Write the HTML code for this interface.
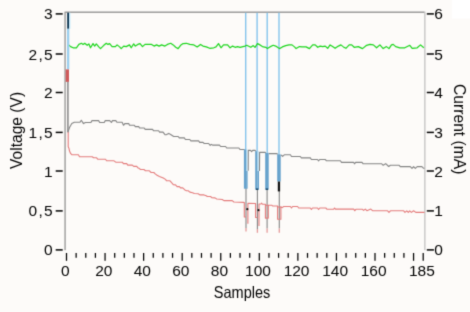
<!DOCTYPE html>
<html><head><meta charset="utf-8"><style>
html,body{margin:0;padding:0;background:#fdfbf9;width:470px;height:312px;overflow:hidden}
svg{position:absolute;left:0;top:0;display:block}
text{font-family:"Liberation Sans", sans-serif;fill:#000}
</style></head><body>
<svg width="470" height="312" viewBox="0 0 470 312">
<defs><filter id="bl" x="0" y="0" width="470" height="312" filterUnits="userSpaceOnUse" color-interpolation-filters="sRGB"><feConvolveMatrix order="3" kernelMatrix="0.0192 0.1001 0.0192 0.1001 0.5228 0.1001 0.0192 0.1001 0.0192" edgeMode="duplicate"/></filter></defs>
<g>
<rect x="0" y="0" width="470" height="312" fill="#fdfbf9"/>
<rect x="452" y="0" width="18" height="18.5" fill="#ffffff"/>
<g stroke-width="1" fill="none">
<line x1="65.05" y1="250.2" x2="65.05" y2="11.65" stroke="#747474"/>
<line x1="65.55" y1="12.15" x2="424.45" y2="12.15" stroke="#6c6c6c"/>
<line x1="424.9" y1="11.65" x2="424.9" y2="250.2" stroke="#b0b0b0"/>
</g>
<g stroke="#84c4ec" stroke-width="1.4" fill="none">
<line x1="245.7" y1="12.7" x2="245.7" y2="149.5"/>
<line x1="257.1" y1="12.7" x2="257.1" y2="151.5"/>
<line x1="267.2" y1="12.7" x2="267.2" y2="152.8"/>
<line x1="279.0" y1="12.7" x2="279.0" y2="154.5"/>
</g>
<polyline points="68.1,44.4 70.6,46.6 73.1,47.8 76.4,47.8 78.9,44.4 81.4,43.3 83.1,44.4 84.7,43.3 87.2,45.3 88.9,43.9 90.5,47.8 93.0,43.6 94.7,46.1 96.3,43.9 98.8,46.9 100.5,48.6 103.8,45.3 106.3,43.3 108.0,44.4 109.6,43.6 112.1,46.6 115.4,46.6 117.1,44.9 119.6,46.9 121.2,48.6 123.7,46.1 126.2,46.6 129.5,44.9 131.2,47.8 133.7,43.9 135.3,46.1 137.8,44.4 140.0,43.6 142.5,46.6 145.0,44.4 151.6,44.4 154.1,46.1 156.6,44.9 159.1,46.1 161.6,44.9 164.9,46.1 167.4,44.4 170.7,43.3 173.2,44.9 175.7,47.3 178.1,48.6 180.6,45.3 183.1,43.6 186.4,43.3 189.8,44.4 193.9,44.9 197.2,46.9 200.5,44.4 203.0,46.1 206.3,46.9 209.7,48.3 213.8,47.8 216.0,46.9 218.5,43.6 221.0,47.8 223.5,44.9 227.6,44.9 230.1,47.8 232.6,46.1 235.1,47.3 237.6,46.6 240.0,47.3 245.0,46.1 246.7,45.3 250.8,47.3 253.3,45.6 255.0,47.3 257.5,43.6 260.0,44.9 262.4,46.6 265.8,47.3 267.4,48.6 269.9,46.9 273.2,45.3 275.7,46.1 278.2,47.8 279.8,48.6 282.3,46.9 285.7,45.6 289.0,44.9 292.0,44.9 294.5,46.9 296.1,48.6 299.5,46.6 302.0,46.9 306.1,46.9 309.4,48.6 312.7,44.9 315.2,44.9 317.7,47.3 320.2,46.1 322.7,46.6 325.2,46.1 327.7,48.3 330.1,44.9 332.6,46.6 335.1,48.3 338.4,46.1 340.9,44.9 343.4,46.9 345.9,48.3 349.2,44.9 351.7,44.9 354.2,47.3 358.3,46.6 362.5,48.6 366.6,45.3 370.0,44.4 373.3,44.9 376.6,47.8 379.9,44.9 383.2,48.6 386.5,46.6 389.0,48.6 391.5,44.9 393.2,44.4 395.7,46.6 399.8,47.8 404.8,47.8 409.8,45.3 412.2,48.3 417.2,47.8 420.5,44.9 423.8,47.8" fill="none" stroke="#1cd61c" stroke-width="1.2" stroke-linejoin="round"/>
<g fill="none" stroke="#848484" stroke-width="1.1" stroke-linejoin="round">
<polyline points="67.9,132.3 69.5,127.5 71.8,123.5 74.3,122.3 80.0,122.3 81.3,120.3 83.5,123.6 85.4,122.5 90.9,122.5 92.0,120.6 98.6,120.6 99.7,122.5 104.2,122.5 105.3,120.6 109.7,120.6 111.4,122.5 112.5,120.6 115.8,120.6 116.9,122.2 122.1,122.2 123.5,125.3 124.8,123.6 128.7,123.6 129.5,125.2 134.3,125.2 135.3,126.6 138.7,126.6 139.6,128.0 144.2,128.0 145.2,129.4 152.5,129.4 153.5,130.7 158.6,130.7 159.6,132.1 163.0,132.1 165.2,134.8 166.5,134.6 168.8,133.4 171.0,134.8 173.7,136.5 178.2,136.5 179.3,137.9 184.3,137.9 185.4,139.5 189.8,139.5 190.9,140.9 198.6,140.9 199.7,142.4 203.0,142.4 204.2,143.5 208.6,143.5 210.2,145.3 211.4,144.4 212.5,145.1 219.5,145.1 220.6,146.5 225.6,146.5 226.7,148.0 238.9,148.0 240.0,149.5 244.4,149.5"/>
<polyline points="248.2,170.7 248.3,150.4 250.5,150.4 251.6,151.6 252.7,150.4 255.2,150.4 255.6,151.4"/>
<polyline points="259.5,171.0 259.6,152.4 265.3,152.4 265.7,153.2"/>
<polyline points="268.8,153.6 277.0,153.6 277.5,154.5"/>
<polyline points="281.0,154.8 282.6,156.4 284.3,154.8 290.4,154.8 291.5,156.5 300.3,156.5 301.4,157.9 310.3,157.9 311.4,159.5 317.5,159.5 318.6,160.9 319.7,159.5 325.2,159.5 326.6,160.8 340.4,160.8 341.5,162.4 353.7,162.4 354.5,163.8 355.6,162.4 362.0,162.4 363.0,163.7 381.5,163.7 383.2,165.3 385.7,163.6 388.7,166.5 390.4,165.3 399.2,165.3 400.3,166.6 410.3,166.6 412.0,168.3 413.6,166.6 415.3,168.3 417.2,166.6 421.9,166.6 423.6,168.3 424.5,168.3"/>
<polyline points="246.0,188.0 246.0,228.0"/>
<polyline points="257.4,189.0 257.4,229.0"/>
<polyline points="267.1,189.0 267.1,228.5"/>
<polyline points="279.3,190.5 279.3,228.5"/>
</g>
<g fill="none" stroke="#e47c7c" stroke-width="1.1" stroke-linejoin="round">
<polyline points="68.2,132.0 68.2,146.7 69.0,148.4 69.5,151.1 70.6,153.4 72.0,154.8 78.4,154.8 79.5,156.7 92.2,156.7 93.6,157.8 96.6,157.8 97.7,159.2 105.5,159.2 106.6,160.8 114.0,160.8 115.7,162.2 122.3,162.2 123.4,163.6 126.7,163.6 127.8,165.1 132.3,165.1 133.7,166.4 136.7,166.4 137.8,167.7 139.4,168.6 140.5,169.5 143.9,169.5 145.5,170.8 149.4,170.8 151.1,172.5 153.8,172.5 155.5,174.1 157.1,175.2 159.4,176.4 163.3,178.0 165.5,179.4 166.6,180.8 170.0,180.8 171.6,182.7 173.3,184.6 175.5,184.9 177.1,186.6 179.4,186.6 180.5,187.9 182.7,187.9 184.9,189.9 186.5,190.8 188.2,190.8 189.9,192.1 192.6,192.7 194.3,193.5 198.2,193.8 199.8,194.9 204.0,194.9 206.2,195.7 207.3,196.5 210.6,196.5 211.7,197.6 215.0,197.9 216.7,199.0 222.3,199.5 223.9,200.6 232.2,200.6 233.9,202.0 243.8,202.4 244.3,202.6 244.3,217.0 246.0,217.0"/>
<polyline points="247.9,223.8 247.9,203.4 255.6,203.5 255.6,217.5 257.4,217.5"/>
<polyline points="259.0,226.0 259.0,204.0 261.0,204.0 261.7,203.2 262.5,204.3 265.4,204.3 265.4,218.1 268.3,218.1 268.3,205.3 272.0,205.3 272.6,206.0 277.6,206.0 277.6,219.3 280.9,219.3 280.9,206.8 282.1,207.6 283.7,206.5 290.4,206.5 291.5,208.0 292.6,206.5 297.6,206.5 298.7,208.0 310.3,208.0 311.4,209.5 312.5,208.0 317.5,208.0 318.6,209.5 319.7,208.0 325.8,208.0 327.1,209.3 333.7,209.1 334.6,208.0 335.4,209.1 353.7,209.1 354.8,210.7 355.9,209.3 362.5,209.3 363.6,210.4 365.3,209.1 366.9,210.7 368.6,210.0 370.8,209.1 372.5,210.7 376.0,210.8 387.6,210.8 389.0,212.4 390.4,210.8 403.7,210.8 405.0,212.4 406.8,210.8 408.3,212.4 409.7,210.8 411.4,212.4 413.6,210.8 415.8,212.4 424.5,212.4"/>
<polyline points="265.4,205.3 268.3,205.3"/>
<polyline points="277.6,207.0 280.9,207.0"/>
</g>
<g stroke="#e59a9a" stroke-width="1.3" fill="none">
<line x1="246.0" y1="228.0" x2="246.0" y2="231.5"/>
<line x1="257.4" y1="229.0" x2="257.4" y2="232.8"/>
<line x1="267.1" y1="228.5" x2="267.1" y2="232.8"/>
<line x1="279.3" y1="228.5" x2="279.3" y2="232.8"/>
</g>
<rect x="243.9" y="149.3" width="2.20" height="39.40" fill="#66a2cc"/>
<rect x="246.1" y="170.7" width="1.50" height="18.00" fill="#66a2cc"/>
<rect x="246.1" y="149.3" width="1.20" height="21.40" fill="#a2d4f0"/>
<rect x="255.2" y="151.2" width="2.30" height="38.40" fill="#66a2cc"/>
<rect x="257.5" y="171.0" width="1.50" height="18.60" fill="#66a2cc"/>
<rect x="257.5" y="151.2" width="1.10" height="19.80" fill="#a2d4f0"/>
<rect x="265.2" y="152.8" width="3.50" height="36.80" fill="#66a2cc"/>
<rect x="277.2" y="154.3" width="3.50" height="27.20" fill="#66a2cc"/>
<rect x="277.8" y="181.5" width="2.30" height="9.90" fill="#111"/>
<rect x="255.9" y="188.4" width="2.40" height="1.60" fill="#1d4a6a"/>
<rect x="265.7" y="188.4" width="2.40" height="1.60" fill="#1d4a6a"/>
<circle cx="247.3" cy="209.2" r="1.1" fill="#111"/>
<circle cx="258.5" cy="210.2" r="1.1" fill="#111"/>
<rect x="67.2" y="12.7" width="1.8" height="16.1" fill="#0c3350"/>
<rect x="69.0" y="12.7" width="1.4" height="16.1" fill="#c4e8fa"/>
<rect x="67.0" y="28.8" width="2.3" height="40.6" fill="#9ccfee"/>
<rect x="65.7" y="69.4" width="3.3" height="12.5" fill="#cf5a5a"/>
<rect x="67.1" y="81.9" width="1.6" height="50.3" fill="#8e8e8e"/>
<g stroke="#000" stroke-width="1.5">
<line x1="55.7" y1="13.9" x2="62.7" y2="13.9"/>
<line x1="426.8" y1="13.9" x2="433.9" y2="13.9"/>
<line x1="55.7" y1="54.0" x2="62.7" y2="54.0"/>
<line x1="426.8" y1="54.0" x2="433.9" y2="54.0"/>
<line x1="55.7" y1="92.5" x2="62.7" y2="92.5"/>
<line x1="426.8" y1="92.5" x2="433.9" y2="92.5"/>
<line x1="55.7" y1="132.4" x2="62.7" y2="132.4"/>
<line x1="426.8" y1="132.4" x2="433.9" y2="132.4"/>
<line x1="55.7" y1="171.0" x2="62.7" y2="171.0"/>
<line x1="426.8" y1="171.0" x2="433.9" y2="171.0"/>
<line x1="55.7" y1="210.9" x2="62.7" y2="210.9"/>
<line x1="426.8" y1="210.9" x2="433.9" y2="210.9"/>
<line x1="55.7" y1="249.9" x2="62.7" y2="249.9"/>
<line x1="426.8" y1="249.9" x2="433.9" y2="249.9"/>
<line x1="66.50" y1="253" x2="66.50" y2="260.8" stroke-width="1.25"/>
<line x1="76.14" y1="253" x2="76.14" y2="257.8" stroke-width="1.25"/>
<line x1="85.78" y1="253" x2="85.78" y2="257.8" stroke-width="1.25"/>
<line x1="95.42" y1="253" x2="95.42" y2="257.8" stroke-width="1.25"/>
<line x1="105.06" y1="253" x2="105.06" y2="260.8" stroke-width="1.25"/>
<line x1="114.70" y1="253" x2="114.70" y2="257.8" stroke-width="1.25"/>
<line x1="124.34" y1="253" x2="124.34" y2="257.8" stroke-width="1.25"/>
<line x1="133.98" y1="253" x2="133.98" y2="257.8" stroke-width="1.25"/>
<line x1="143.62" y1="253" x2="143.62" y2="260.8" stroke-width="1.25"/>
<line x1="153.26" y1="253" x2="153.26" y2="257.8" stroke-width="1.25"/>
<line x1="162.91" y1="253" x2="162.91" y2="257.8" stroke-width="1.25"/>
<line x1="172.55" y1="253" x2="172.55" y2="257.8" stroke-width="1.25"/>
<line x1="182.19" y1="253" x2="182.19" y2="260.8" stroke-width="1.25"/>
<line x1="191.83" y1="253" x2="191.83" y2="257.8" stroke-width="1.25"/>
<line x1="201.47" y1="253" x2="201.47" y2="257.8" stroke-width="1.25"/>
<line x1="211.11" y1="253" x2="211.11" y2="257.8" stroke-width="1.25"/>
<line x1="220.75" y1="253" x2="220.75" y2="260.8" stroke-width="1.25"/>
<line x1="230.39" y1="253" x2="230.39" y2="257.8" stroke-width="1.25"/>
<line x1="240.03" y1="253" x2="240.03" y2="257.8" stroke-width="1.25"/>
<line x1="249.67" y1="253" x2="249.67" y2="257.8" stroke-width="1.25"/>
<line x1="259.31" y1="253" x2="259.31" y2="260.8" stroke-width="1.25"/>
<line x1="268.95" y1="253" x2="268.95" y2="257.8" stroke-width="1.25"/>
<line x1="278.59" y1="253" x2="278.59" y2="257.8" stroke-width="1.25"/>
<line x1="288.23" y1="253" x2="288.23" y2="257.8" stroke-width="1.25"/>
<line x1="297.87" y1="253" x2="297.87" y2="260.8" stroke-width="1.25"/>
<line x1="307.51" y1="253" x2="307.51" y2="257.8" stroke-width="1.25"/>
<line x1="317.15" y1="253" x2="317.15" y2="257.8" stroke-width="1.25"/>
<line x1="326.79" y1="253" x2="326.79" y2="257.8" stroke-width="1.25"/>
<line x1="336.44" y1="253" x2="336.44" y2="260.8" stroke-width="1.25"/>
<line x1="346.08" y1="253" x2="346.08" y2="257.8" stroke-width="1.25"/>
<line x1="355.72" y1="253" x2="355.72" y2="257.8" stroke-width="1.25"/>
<line x1="365.36" y1="253" x2="365.36" y2="257.8" stroke-width="1.25"/>
<line x1="375.00" y1="253" x2="375.00" y2="260.8" stroke-width="1.25"/>
<line x1="384.64" y1="253" x2="384.64" y2="257.8" stroke-width="1.25"/>
<line x1="394.28" y1="253" x2="394.28" y2="257.8" stroke-width="1.25"/>
<line x1="403.92" y1="253" x2="403.92" y2="257.8" stroke-width="1.25"/>
<line x1="413.56" y1="253" x2="413.56" y2="260.8" stroke-width="1.25"/>
<line x1="423.20" y1="253" x2="423.20" y2="260.8" stroke-width="1.25"/>
</g>
<text x="52.6" y="19.4" font-size="15.5" text-anchor="end">3</text>
<text x="52.6" y="59.5" font-size="15.5" text-anchor="end" textLength="24" lengthAdjust="spacing">2,5</text>
<text x="52.6" y="98.0" font-size="15.5" text-anchor="end">2</text>
<text x="52.6" y="137.9" font-size="15.5" text-anchor="end" textLength="24" lengthAdjust="spacing">1,5</text>
<text x="52.6" y="176.5" font-size="15.5" text-anchor="end">1</text>
<text x="52.6" y="216.4" font-size="15.5" text-anchor="end" textLength="24" lengthAdjust="spacing">0,5</text>
<text x="52.6" y="255.4" font-size="15.5" text-anchor="end">0</text>
<text x="434.2" y="19.4" font-size="15.5">6</text>
<text x="434.2" y="59.5" font-size="15.5">5</text>
<text x="434.2" y="98.0" font-size="15.5">4</text>
<text x="434.2" y="137.9" font-size="15.5">3</text>
<text x="434.2" y="176.5" font-size="15.5">2</text>
<text x="434.2" y="216.4" font-size="15.5">1</text>
<text x="434.2" y="255.4" font-size="15.5">0</text>
<text x="65.20" y="275.9" font-size="15.5" text-anchor="middle">0</text>
<text x="103.76" y="275.9" font-size="15.5" text-anchor="middle">20</text>
<text x="142.32" y="275.9" font-size="15.5" text-anchor="middle">40</text>
<text x="180.89" y="275.9" font-size="15.5" text-anchor="middle">60</text>
<text x="219.45" y="275.9" font-size="15.5" text-anchor="middle">80</text>
<text x="258.01" y="275.9" font-size="15.5" text-anchor="middle">100</text>
<text x="296.57" y="275.9" font-size="15.5" text-anchor="middle">120</text>
<text x="335.14" y="275.9" font-size="15.5" text-anchor="middle">140</text>
<text x="373.70" y="275.9" font-size="15.5" text-anchor="middle">160</text>
<text x="421.90" y="275.9" font-size="15.5" text-anchor="middle">185</text>
<text x="213.8" y="298.0" font-size="16.5" textLength="56.5" lengthAdjust="spacingAndGlyphs">Samples</text>
<text transform="translate(21.6,168.9) rotate(-90)" x="0" y="0" font-size="16.5" textLength="77" lengthAdjust="spacingAndGlyphs">Voltage (V)</text>
<text transform="translate(453.9,84.0) rotate(90)" x="0" y="0" font-size="16.5" textLength="90.5" lengthAdjust="spacingAndGlyphs">Current (mA)</text>
</g>
<g filter="url(#bl)">
<rect x="0" y="0" width="470" height="312" fill="#fdfbf9"/>
<rect x="452" y="0" width="18" height="18.5" fill="#ffffff"/>
<g stroke-width="1" fill="none">
<line x1="65.05" y1="250.2" x2="65.05" y2="11.65" stroke="#747474"/>
<line x1="65.55" y1="12.15" x2="424.45" y2="12.15" stroke="#6c6c6c"/>
<line x1="424.9" y1="11.65" x2="424.9" y2="250.2" stroke="#b0b0b0"/>
</g>
<g stroke="#84c4ec" stroke-width="1.4" fill="none">
<line x1="245.7" y1="12.7" x2="245.7" y2="149.5"/>
<line x1="257.1" y1="12.7" x2="257.1" y2="151.5"/>
<line x1="267.2" y1="12.7" x2="267.2" y2="152.8"/>
<line x1="279.0" y1="12.7" x2="279.0" y2="154.5"/>
</g>
<polyline points="68.1,44.4 70.6,46.6 73.1,47.8 76.4,47.8 78.9,44.4 81.4,43.3 83.1,44.4 84.7,43.3 87.2,45.3 88.9,43.9 90.5,47.8 93.0,43.6 94.7,46.1 96.3,43.9 98.8,46.9 100.5,48.6 103.8,45.3 106.3,43.3 108.0,44.4 109.6,43.6 112.1,46.6 115.4,46.6 117.1,44.9 119.6,46.9 121.2,48.6 123.7,46.1 126.2,46.6 129.5,44.9 131.2,47.8 133.7,43.9 135.3,46.1 137.8,44.4 140.0,43.6 142.5,46.6 145.0,44.4 151.6,44.4 154.1,46.1 156.6,44.9 159.1,46.1 161.6,44.9 164.9,46.1 167.4,44.4 170.7,43.3 173.2,44.9 175.7,47.3 178.1,48.6 180.6,45.3 183.1,43.6 186.4,43.3 189.8,44.4 193.9,44.9 197.2,46.9 200.5,44.4 203.0,46.1 206.3,46.9 209.7,48.3 213.8,47.8 216.0,46.9 218.5,43.6 221.0,47.8 223.5,44.9 227.6,44.9 230.1,47.8 232.6,46.1 235.1,47.3 237.6,46.6 240.0,47.3 245.0,46.1 246.7,45.3 250.8,47.3 253.3,45.6 255.0,47.3 257.5,43.6 260.0,44.9 262.4,46.6 265.8,47.3 267.4,48.6 269.9,46.9 273.2,45.3 275.7,46.1 278.2,47.8 279.8,48.6 282.3,46.9 285.7,45.6 289.0,44.9 292.0,44.9 294.5,46.9 296.1,48.6 299.5,46.6 302.0,46.9 306.1,46.9 309.4,48.6 312.7,44.9 315.2,44.9 317.7,47.3 320.2,46.1 322.7,46.6 325.2,46.1 327.7,48.3 330.1,44.9 332.6,46.6 335.1,48.3 338.4,46.1 340.9,44.9 343.4,46.9 345.9,48.3 349.2,44.9 351.7,44.9 354.2,47.3 358.3,46.6 362.5,48.6 366.6,45.3 370.0,44.4 373.3,44.9 376.6,47.8 379.9,44.9 383.2,48.6 386.5,46.6 389.0,48.6 391.5,44.9 393.2,44.4 395.7,46.6 399.8,47.8 404.8,47.8 409.8,45.3 412.2,48.3 417.2,47.8 420.5,44.9 423.8,47.8" fill="none" stroke="#1cd61c" stroke-width="1.2" stroke-linejoin="round"/>
<g fill="none" stroke="#848484" stroke-width="1.1" stroke-linejoin="round">
<polyline points="67.9,132.3 69.5,127.5 71.8,123.5 74.3,122.3 80.0,122.3 81.3,120.3 83.5,123.6 85.4,122.5 90.9,122.5 92.0,120.6 98.6,120.6 99.7,122.5 104.2,122.5 105.3,120.6 109.7,120.6 111.4,122.5 112.5,120.6 115.8,120.6 116.9,122.2 122.1,122.2 123.5,125.3 124.8,123.6 128.7,123.6 129.5,125.2 134.3,125.2 135.3,126.6 138.7,126.6 139.6,128.0 144.2,128.0 145.2,129.4 152.5,129.4 153.5,130.7 158.6,130.7 159.6,132.1 163.0,132.1 165.2,134.8 166.5,134.6 168.8,133.4 171.0,134.8 173.7,136.5 178.2,136.5 179.3,137.9 184.3,137.9 185.4,139.5 189.8,139.5 190.9,140.9 198.6,140.9 199.7,142.4 203.0,142.4 204.2,143.5 208.6,143.5 210.2,145.3 211.4,144.4 212.5,145.1 219.5,145.1 220.6,146.5 225.6,146.5 226.7,148.0 238.9,148.0 240.0,149.5 244.4,149.5"/>
<polyline points="248.2,170.7 248.3,150.4 250.5,150.4 251.6,151.6 252.7,150.4 255.2,150.4 255.6,151.4"/>
<polyline points="259.5,171.0 259.6,152.4 265.3,152.4 265.7,153.2"/>
<polyline points="268.8,153.6 277.0,153.6 277.5,154.5"/>
<polyline points="281.0,154.8 282.6,156.4 284.3,154.8 290.4,154.8 291.5,156.5 300.3,156.5 301.4,157.9 310.3,157.9 311.4,159.5 317.5,159.5 318.6,160.9 319.7,159.5 325.2,159.5 326.6,160.8 340.4,160.8 341.5,162.4 353.7,162.4 354.5,163.8 355.6,162.4 362.0,162.4 363.0,163.7 381.5,163.7 383.2,165.3 385.7,163.6 388.7,166.5 390.4,165.3 399.2,165.3 400.3,166.6 410.3,166.6 412.0,168.3 413.6,166.6 415.3,168.3 417.2,166.6 421.9,166.6 423.6,168.3 424.5,168.3"/>
<polyline points="246.0,188.0 246.0,228.0"/>
<polyline points="257.4,189.0 257.4,229.0"/>
<polyline points="267.1,189.0 267.1,228.5"/>
<polyline points="279.3,190.5 279.3,228.5"/>
</g>
<g fill="none" stroke="#e47c7c" stroke-width="1.1" stroke-linejoin="round">
<polyline points="68.2,132.0 68.2,146.7 69.0,148.4 69.5,151.1 70.6,153.4 72.0,154.8 78.4,154.8 79.5,156.7 92.2,156.7 93.6,157.8 96.6,157.8 97.7,159.2 105.5,159.2 106.6,160.8 114.0,160.8 115.7,162.2 122.3,162.2 123.4,163.6 126.7,163.6 127.8,165.1 132.3,165.1 133.7,166.4 136.7,166.4 137.8,167.7 139.4,168.6 140.5,169.5 143.9,169.5 145.5,170.8 149.4,170.8 151.1,172.5 153.8,172.5 155.5,174.1 157.1,175.2 159.4,176.4 163.3,178.0 165.5,179.4 166.6,180.8 170.0,180.8 171.6,182.7 173.3,184.6 175.5,184.9 177.1,186.6 179.4,186.6 180.5,187.9 182.7,187.9 184.9,189.9 186.5,190.8 188.2,190.8 189.9,192.1 192.6,192.7 194.3,193.5 198.2,193.8 199.8,194.9 204.0,194.9 206.2,195.7 207.3,196.5 210.6,196.5 211.7,197.6 215.0,197.9 216.7,199.0 222.3,199.5 223.9,200.6 232.2,200.6 233.9,202.0 243.8,202.4 244.3,202.6 244.3,217.0 246.0,217.0"/>
<polyline points="247.9,223.8 247.9,203.4 255.6,203.5 255.6,217.5 257.4,217.5"/>
<polyline points="259.0,226.0 259.0,204.0 261.0,204.0 261.7,203.2 262.5,204.3 265.4,204.3 265.4,218.1 268.3,218.1 268.3,205.3 272.0,205.3 272.6,206.0 277.6,206.0 277.6,219.3 280.9,219.3 280.9,206.8 282.1,207.6 283.7,206.5 290.4,206.5 291.5,208.0 292.6,206.5 297.6,206.5 298.7,208.0 310.3,208.0 311.4,209.5 312.5,208.0 317.5,208.0 318.6,209.5 319.7,208.0 325.8,208.0 327.1,209.3 333.7,209.1 334.6,208.0 335.4,209.1 353.7,209.1 354.8,210.7 355.9,209.3 362.5,209.3 363.6,210.4 365.3,209.1 366.9,210.7 368.6,210.0 370.8,209.1 372.5,210.7 376.0,210.8 387.6,210.8 389.0,212.4 390.4,210.8 403.7,210.8 405.0,212.4 406.8,210.8 408.3,212.4 409.7,210.8 411.4,212.4 413.6,210.8 415.8,212.4 424.5,212.4"/>
<polyline points="265.4,205.3 268.3,205.3"/>
<polyline points="277.6,207.0 280.9,207.0"/>
</g>
<g stroke="#e59a9a" stroke-width="1.3" fill="none">
<line x1="246.0" y1="228.0" x2="246.0" y2="231.5"/>
<line x1="257.4" y1="229.0" x2="257.4" y2="232.8"/>
<line x1="267.1" y1="228.5" x2="267.1" y2="232.8"/>
<line x1="279.3" y1="228.5" x2="279.3" y2="232.8"/>
</g>
<rect x="243.9" y="149.3" width="2.20" height="39.40" fill="#66a2cc"/>
<rect x="246.1" y="170.7" width="1.50" height="18.00" fill="#66a2cc"/>
<rect x="246.1" y="149.3" width="1.20" height="21.40" fill="#a2d4f0"/>
<rect x="255.2" y="151.2" width="2.30" height="38.40" fill="#66a2cc"/>
<rect x="257.5" y="171.0" width="1.50" height="18.60" fill="#66a2cc"/>
<rect x="257.5" y="151.2" width="1.10" height="19.80" fill="#a2d4f0"/>
<rect x="265.2" y="152.8" width="3.50" height="36.80" fill="#66a2cc"/>
<rect x="277.2" y="154.3" width="3.50" height="27.20" fill="#66a2cc"/>
<rect x="277.8" y="181.5" width="2.30" height="9.90" fill="#111"/>
<rect x="255.9" y="188.4" width="2.40" height="1.60" fill="#1d4a6a"/>
<rect x="265.7" y="188.4" width="2.40" height="1.60" fill="#1d4a6a"/>
<circle cx="247.3" cy="209.2" r="1.1" fill="#111"/>
<circle cx="258.5" cy="210.2" r="1.1" fill="#111"/>
<rect x="67.2" y="12.7" width="1.8" height="16.1" fill="#0c3350"/>
<rect x="69.0" y="12.7" width="1.4" height="16.1" fill="#c4e8fa"/>
<rect x="67.0" y="28.8" width="2.3" height="40.6" fill="#9ccfee"/>
<rect x="65.7" y="69.4" width="3.3" height="12.5" fill="#cf5a5a"/>
<rect x="67.1" y="81.9" width="1.6" height="50.3" fill="#8e8e8e"/>
<g stroke="#000" stroke-width="1.5">
<line x1="55.7" y1="13.9" x2="62.7" y2="13.9"/>
<line x1="426.8" y1="13.9" x2="433.9" y2="13.9"/>
<line x1="55.7" y1="54.0" x2="62.7" y2="54.0"/>
<line x1="426.8" y1="54.0" x2="433.9" y2="54.0"/>
<line x1="55.7" y1="92.5" x2="62.7" y2="92.5"/>
<line x1="426.8" y1="92.5" x2="433.9" y2="92.5"/>
<line x1="55.7" y1="132.4" x2="62.7" y2="132.4"/>
<line x1="426.8" y1="132.4" x2="433.9" y2="132.4"/>
<line x1="55.7" y1="171.0" x2="62.7" y2="171.0"/>
<line x1="426.8" y1="171.0" x2="433.9" y2="171.0"/>
<line x1="55.7" y1="210.9" x2="62.7" y2="210.9"/>
<line x1="426.8" y1="210.9" x2="433.9" y2="210.9"/>
<line x1="55.7" y1="249.9" x2="62.7" y2="249.9"/>
<line x1="426.8" y1="249.9" x2="433.9" y2="249.9"/>
<line x1="66.50" y1="253" x2="66.50" y2="260.8" stroke-width="1.25"/>
<line x1="76.14" y1="253" x2="76.14" y2="257.8" stroke-width="1.25"/>
<line x1="85.78" y1="253" x2="85.78" y2="257.8" stroke-width="1.25"/>
<line x1="95.42" y1="253" x2="95.42" y2="257.8" stroke-width="1.25"/>
<line x1="105.06" y1="253" x2="105.06" y2="260.8" stroke-width="1.25"/>
<line x1="114.70" y1="253" x2="114.70" y2="257.8" stroke-width="1.25"/>
<line x1="124.34" y1="253" x2="124.34" y2="257.8" stroke-width="1.25"/>
<line x1="133.98" y1="253" x2="133.98" y2="257.8" stroke-width="1.25"/>
<line x1="143.62" y1="253" x2="143.62" y2="260.8" stroke-width="1.25"/>
<line x1="153.26" y1="253" x2="153.26" y2="257.8" stroke-width="1.25"/>
<line x1="162.91" y1="253" x2="162.91" y2="257.8" stroke-width="1.25"/>
<line x1="172.55" y1="253" x2="172.55" y2="257.8" stroke-width="1.25"/>
<line x1="182.19" y1="253" x2="182.19" y2="260.8" stroke-width="1.25"/>
<line x1="191.83" y1="253" x2="191.83" y2="257.8" stroke-width="1.25"/>
<line x1="201.47" y1="253" x2="201.47" y2="257.8" stroke-width="1.25"/>
<line x1="211.11" y1="253" x2="211.11" y2="257.8" stroke-width="1.25"/>
<line x1="220.75" y1="253" x2="220.75" y2="260.8" stroke-width="1.25"/>
<line x1="230.39" y1="253" x2="230.39" y2="257.8" stroke-width="1.25"/>
<line x1="240.03" y1="253" x2="240.03" y2="257.8" stroke-width="1.25"/>
<line x1="249.67" y1="253" x2="249.67" y2="257.8" stroke-width="1.25"/>
<line x1="259.31" y1="253" x2="259.31" y2="260.8" stroke-width="1.25"/>
<line x1="268.95" y1="253" x2="268.95" y2="257.8" stroke-width="1.25"/>
<line x1="278.59" y1="253" x2="278.59" y2="257.8" stroke-width="1.25"/>
<line x1="288.23" y1="253" x2="288.23" y2="257.8" stroke-width="1.25"/>
<line x1="297.87" y1="253" x2="297.87" y2="260.8" stroke-width="1.25"/>
<line x1="307.51" y1="253" x2="307.51" y2="257.8" stroke-width="1.25"/>
<line x1="317.15" y1="253" x2="317.15" y2="257.8" stroke-width="1.25"/>
<line x1="326.79" y1="253" x2="326.79" y2="257.8" stroke-width="1.25"/>
<line x1="336.44" y1="253" x2="336.44" y2="260.8" stroke-width="1.25"/>
<line x1="346.08" y1="253" x2="346.08" y2="257.8" stroke-width="1.25"/>
<line x1="355.72" y1="253" x2="355.72" y2="257.8" stroke-width="1.25"/>
<line x1="365.36" y1="253" x2="365.36" y2="257.8" stroke-width="1.25"/>
<line x1="375.00" y1="253" x2="375.00" y2="260.8" stroke-width="1.25"/>
<line x1="384.64" y1="253" x2="384.64" y2="257.8" stroke-width="1.25"/>
<line x1="394.28" y1="253" x2="394.28" y2="257.8" stroke-width="1.25"/>
<line x1="403.92" y1="253" x2="403.92" y2="257.8" stroke-width="1.25"/>
<line x1="413.56" y1="253" x2="413.56" y2="260.8" stroke-width="1.25"/>
<line x1="423.20" y1="253" x2="423.20" y2="260.8" stroke-width="1.25"/>
</g>
<text x="52.6" y="19.4" font-size="15.5" text-anchor="end">3</text>
<text x="52.6" y="59.5" font-size="15.5" text-anchor="end" textLength="24" lengthAdjust="spacing">2,5</text>
<text x="52.6" y="98.0" font-size="15.5" text-anchor="end">2</text>
<text x="52.6" y="137.9" font-size="15.5" text-anchor="end" textLength="24" lengthAdjust="spacing">1,5</text>
<text x="52.6" y="176.5" font-size="15.5" text-anchor="end">1</text>
<text x="52.6" y="216.4" font-size="15.5" text-anchor="end" textLength="24" lengthAdjust="spacing">0,5</text>
<text x="52.6" y="255.4" font-size="15.5" text-anchor="end">0</text>
<text x="434.2" y="19.4" font-size="15.5">6</text>
<text x="434.2" y="59.5" font-size="15.5">5</text>
<text x="434.2" y="98.0" font-size="15.5">4</text>
<text x="434.2" y="137.9" font-size="15.5">3</text>
<text x="434.2" y="176.5" font-size="15.5">2</text>
<text x="434.2" y="216.4" font-size="15.5">1</text>
<text x="434.2" y="255.4" font-size="15.5">0</text>
<text x="65.20" y="275.9" font-size="15.5" text-anchor="middle">0</text>
<text x="103.76" y="275.9" font-size="15.5" text-anchor="middle">20</text>
<text x="142.32" y="275.9" font-size="15.5" text-anchor="middle">40</text>
<text x="180.89" y="275.9" font-size="15.5" text-anchor="middle">60</text>
<text x="219.45" y="275.9" font-size="15.5" text-anchor="middle">80</text>
<text x="258.01" y="275.9" font-size="15.5" text-anchor="middle">100</text>
<text x="296.57" y="275.9" font-size="15.5" text-anchor="middle">120</text>
<text x="335.14" y="275.9" font-size="15.5" text-anchor="middle">140</text>
<text x="373.70" y="275.9" font-size="15.5" text-anchor="middle">160</text>
<text x="421.90" y="275.9" font-size="15.5" text-anchor="middle">185</text>
<text x="213.8" y="298.0" font-size="16.5" textLength="56.5" lengthAdjust="spacingAndGlyphs">Samples</text>
<text transform="translate(21.6,168.9) rotate(-90)" x="0" y="0" font-size="16.5" textLength="77" lengthAdjust="spacingAndGlyphs">Voltage (V)</text>
<text transform="translate(453.9,84.0) rotate(90)" x="0" y="0" font-size="16.5" textLength="90.5" lengthAdjust="spacingAndGlyphs">Current (mA)</text>
</g>
</svg></body></html>
